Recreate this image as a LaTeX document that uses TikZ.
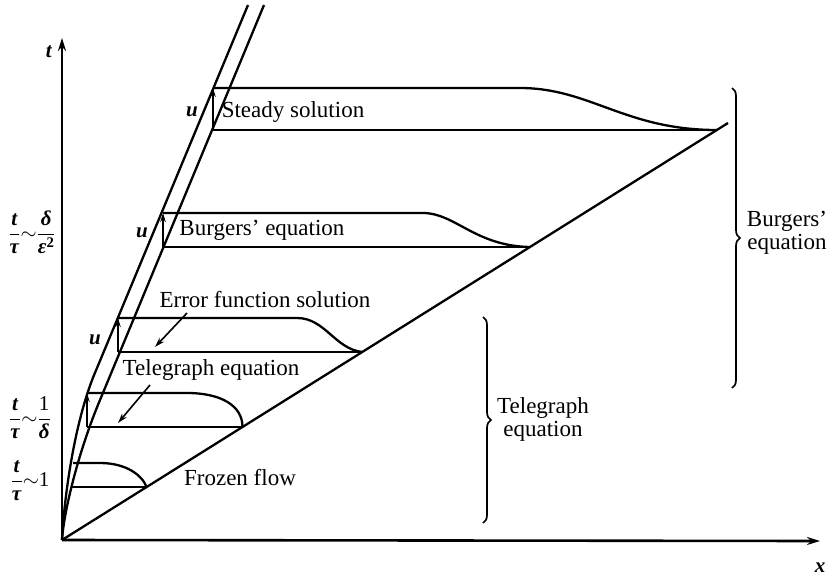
\documentclass[tikz,border=0pt]{standalone}
\usepackage{amsmath}
\usepackage{fontspec}
\setmainfont{Liberation Serif}
\usetikzlibrary{arrows.meta,decorations.pathreplacing,calc}
\newcommand\mi[1]{\textbf{\textit{#1}}}
\begin{document}
\begin{tikzpicture}[x=1pt,y=-1pt,
  ln/.style={line width=2.3pt},
  ax/.style={line width=2.6pt,-{Stealth[length=13pt,width=8pt]}},
  uarr/.style={line width=1.6pt,-{Stealth[length=9pt,width=5.5pt]}},
  ptr/.style={line width=1.6pt,-{Stealth[length=10pt,width=6pt]}},
  lbl/.style={font=\fontsize{23}{23}\selectfont,inner sep=0pt},
  mlbl/.style={font=\fontsize{21}{21}\selectfont,inner sep=0pt},
  brc/.style={line width=1.7pt,decorate,decoration={brace,amplitude=8pt}}]
\useasboundingbox (0,0) rectangle (828,576);
% axes
\coordinate (O) at (62,540);
\coordinate (tTop) at (62,38);
\coordinate (xEnd) at (820,541);
\draw[ax] (O) -- (tTop);
\draw[ax] (O) -- (xEnd);
\node[mlbl] (tlab) at (49,52) {\mi{t}};
\node[mlbl] (xlab) at (820,568) {\mi{x}};
% frozen flow line
\coordinate (E) at (728,123);
\draw[ln] (O) -- (E);
% the two steep lines
\coordinate (LT) at (248,5);
\coordinate (RT) at (264,5);
\draw[ln] (O) .. controls (64,500) and (74,420) .. (97,368) -- (LT);
\draw[ln] (O) .. controls (64,510) and (79,450) .. (100,400) -- (RT);
% box corners
\coordinate (a1) at (73,463);  \coordinate (b1) at (71,487);  \coordinate (f1) at (146.6,487);
\coordinate (a2) at (87,393);  \coordinate (b2) at (87,427);  \coordinate (f2) at (242.5,427);
\coordinate (a3) at (118,318); \coordinate (b3) at (118,352); \coordinate (f3) at (362.3,352);
\coordinate (a4) at (163,213); \coordinate (b4) at (163,247); \coordinate (f4) at (530,247);
\coordinate (a5) at (213,88);  \coordinate (b5) at (213,130); \coordinate (f5) at (716.8,130);
% profiles
\draw[ln] (a1) -- (100,463) .. controls (126,463) and (142,475) .. (f1);
\draw[ln] (b1) -- (f1);
\draw[ln] (a2) -- (187,393) .. controls (220,393) and (242.5,405) .. (f2);
\draw[ln] (b2) -- (f2);
\draw[ln] (a3) -- (297,318) .. controls (325,318) and (335,349) .. (f3);
\draw[ln] (b3) -- (f3);
\draw[ln] (a4) -- (423,213) .. controls (455,213) and (475,246) .. (f4);
\draw[ln] (b4) -- (f4);
\draw[ln] (a5) -- (520,88) .. controls (590,88) and (625,130) .. (f5);
\draw[ln] (b5) -- (f5);
% u arrows
\draw[uarr] (b2) -- (a2);
\draw[uarr] (b3) -- (a3);
\draw[uarr] (b4) -- (a4);
\draw[uarr] (b5) -- (a5);
\node[mlbl] (u3) at (95,340) {\mi{u}};
\node[mlbl] (u4) at (142,233) {\mi{u}};
\node[mlbl] (u5) at (192,112) {\mi{u}};
% texts
\node[lbl] (steady) at (293,112) {Steady solution};
\node[lbl] (burg) at (262,230) {Burgers' equation};
\node[lbl] (erf) at (265,300) {Error function solution};
\node[lbl] (tel) at (211,370) {Telegraph equation};
\node[lbl] (froz) at (240,478) {Frozen flow};
% pointers
\coordinate (p1s) at (187,313); \coordinate (p1e) at (155,347);
\coordinate (p2s) at (150,385); \coordinate (p2e) at (118,423);
\draw[ptr] (p1s) -- (p1e);
\draw[ptr] (p2s) -- (p2e);
% braces
\coordinate (bt1) at (483,317); \coordinate (bb1) at (483,523);
\draw[brc] (bt1) -- (bb1);
\node[lbl,align=center] (tellab) at (543,419) {Telegraph\\equation};
\coordinate (bt2) at (732,88); \coordinate (bb2) at (732,388);
\draw[brc] (bt2) -- (bb2);
\node[lbl,align=center] (burlab) at (787,233) {Burgers'\\equation};
% left scale labels
\node[mlbl] (r1) at (30,481) {$\dfrac{\mi{t}}{\mi{τ}}{\sim}\textrm{1}$};
\node[mlbl] (r2) at (30,418) {$\dfrac{\mi{t}}{\mi{τ}}{\sim}\dfrac{\textrm{1}}{\mi{δ}}$};
\node[mlbl] (r3) at (32,232) {$\dfrac{\mi{t}}{\mi{τ}}{\sim}\dfrac{\mi{δ}}{\mi{ε}^{\textbf{2}}}$};
\end{tikzpicture}
\end{document}
